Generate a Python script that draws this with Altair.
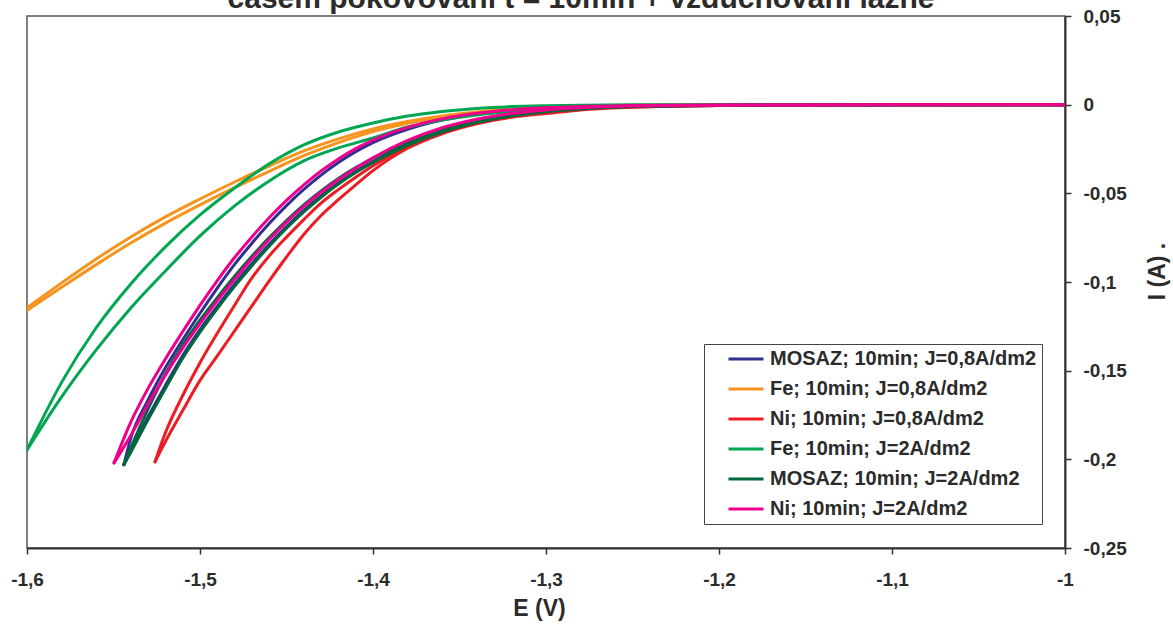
import altair as alt
import pandas as pd

TITLE = "časem pokovování t = 10min + vzduchování lázně"

SERIES = [
    "MOSAZ; 10min; J=0,8A/dm2",
    "Fe; 10min; J=0,8A/dm2",
    "Ni; 10min; J=0,8A/dm2",
    "Fe; 10min; J=2A/dm2",
    "MOSAZ; 10min; J=2A/dm2",
    "Ni; 10min; J=2A/dm2",
]
COLORS = ["#2E3192", "#F7941D", "#ED1C24", "#00A651", "#00693C", "#EC008C"]

X_TICKS = [-1.6, -1.5, -1.4, -1.3, -1.2, -1.1, -1.0]
Y_TICKS = [0.05, 0.0, -0.05, -0.1, -0.15, -0.2, -0.25]

# potential grids (V)
E_FE = [-1.60, -1.58, -1.56, -1.54, -1.52, -1.50, -1.48, -1.46, -1.44, -1.42,
        -1.40, -1.38, -1.36, -1.34, -1.32, -1.30, -1.28, -1.25, -1.20, -1.00]
E_NI2 = [-1.5497, -1.54, -1.53, -1.52, -1.51, -1.50, -1.49, -1.48, -1.47, -1.46,
         -1.45, -1.44, -1.43, -1.42, -1.41, -1.40, -1.38, -1.36, -1.34, -1.32,
         -1.30, -1.28, -1.25, -1.20, -1.10, -1.00]
E_MOSAZ = [-1.544, -1.54, -1.53, -1.52, -1.51, -1.50, -1.49, -1.48, -1.47, -1.46,
           -1.45, -1.44, -1.43, -1.42, -1.41, -1.40, -1.38, -1.36, -1.34, -1.32,
           -1.30, -1.28, -1.25, -1.20, -1.10, -1.00]
E_NI08 = [-1.526, -1.52, -1.51, -1.50, -1.49, -1.48, -1.47, -1.46, -1.45, -1.44,
          -1.43, -1.42, -1.41, -1.40, -1.38, -1.36, -1.34, -1.32, -1.30, -1.28,
          -1.25, -1.20, -1.10, -1.00]

# currents (A), two sweep branches per sample
I_MOSAZ08_A = [-0.2030, -0.1880, -0.1665, -0.1484, -0.1326, -0.1176, -0.1034, -0.0901, -0.0781, -0.0670,
               -0.0569, -0.0478, -0.0397, -0.0326, -0.0265, -0.0214, -0.0139, -0.0087, -0.0054, -0.0033,
               -0.0020, -0.0011, -0.0005, -0.0002, -0.0001, 0.0]
I_MOSAZ08_B = [-0.2030, -0.1950, -0.1760, -0.1583, -0.1414, -0.1268, -0.1136, -0.1012, -0.0896, -0.0787,
               -0.0687, -0.0596, -0.0514, -0.0441, -0.0377, -0.0321, -0.0226, -0.0152, -0.0099, -0.0063,
               -0.0039, -0.0023, -0.0011, -0.0004, -0.0001, 0.0]
I_FE08_A = [-0.1146, -0.1005, -0.0870, -0.0746, -0.0633, -0.0532, -0.0436, -0.0346, -0.0261, -0.0193,
            -0.0137, -0.0095, -0.0064, -0.0041, -0.0024, -0.0015, -0.0008, -0.0003, -0.0001, 0.0]
I_FE08_B = [-0.1160, -0.1030, -0.0902, -0.0780, -0.0668, -0.0565, -0.0468, -0.0376, -0.0288, -0.0214,
            -0.0152, -0.0105, -0.0071, -0.0045, -0.0027, -0.0017, -0.0009, -0.0004, -0.0001, 0.0]
I_NI08_A = [-0.2014, -0.1850, -0.1640, -0.1455, -0.1289, -0.1131, -0.0977, -0.0853, -0.0747, -0.0648,
            -0.0555, -0.0479, -0.0409, -0.0344, -0.0237, -0.0158, -0.0100, -0.0063, -0.0043, -0.0024,
            -0.0013, -0.0004, -0.0001, 0.0]
I_NI08_B = [-0.2014, -0.1900, -0.1725, -0.1555, -0.1417, -0.1276, -0.1135, -0.0994, -0.0859, -0.0732,
            -0.0625, -0.0536, -0.0452, -0.0372, -0.0246, -0.0164, -0.0108, -0.0071, -0.0050, -0.0030,
            -0.0015, -0.0005, -0.0001, 0.0]
I_FE2_A = [-0.1947, -0.1566, -0.1258, -0.1011, -0.0802, -0.0622, -0.0470, -0.0334, -0.0227, -0.0154,
           -0.0103, -0.0064, -0.0038, -0.0021, -0.0011, -0.0006, -0.0003, -0.0001, -0.0001, 0.0]
I_FE2_B = [-0.1947, -0.1648, -0.1383, -0.1146, -0.0938, -0.0740, -0.0571, -0.0430, -0.0317, -0.0244,
           -0.0188, -0.0126, -0.0086, -0.0058, -0.0038, -0.0024, -0.0016, -0.0007, -0.0003, 0.0]
I_MOSAZ2_A = [-0.2030, -0.1935, -0.1715, -0.1520, -0.1355, -0.1215, -0.1088, -0.0968, -0.0855, -0.0750,
              -0.0653, -0.0565, -0.0486, -0.0416, -0.0355, -0.0302, -0.0212, -0.0142, -0.0092, -0.0058,
              -0.0036, -0.0022, -0.0010, -0.0003, -0.0001, 0.0]
I_MOSAZ2_B = [-0.2030, -0.1960, -0.1775, -0.1600, -0.1430, -0.1283, -0.1150, -0.1025, -0.0908, -0.0798,
              -0.0697, -0.0605, -0.0522, -0.0448, -0.0383, -0.0326, -0.0230, -0.0155, -0.0101, -0.0064,
              -0.0040, -0.0024, -0.0011, -0.0004, -0.0001, 0.0]
I_NI2_A = [-0.2020, -0.1790, -0.1600, -0.1434, -0.1280, -0.1132, -0.0992, -0.0862, -0.0746, -0.0638,
           -0.0540, -0.0452, -0.0374, -0.0306, -0.0248, -0.0200, -0.0128, -0.0080, -0.0049, -0.0030,
           -0.0018, -0.0010, -0.0005, -0.0002, -0.0001, 0.0]
I_NI2_B = [-0.2020, -0.1865, -0.1690, -0.1525, -0.1373, -0.1235, -0.1105, -0.0985, -0.0868, -0.0760,
           -0.0662, -0.0574, -0.0494, -0.0422, -0.0358, -0.0300, -0.0202, -0.0130, -0.0082, -0.0050,
           -0.0030, -0.0018, -0.0008, -0.0003, -0.0001, 0.0]

branches = [
    (SERIES[0], "a", E_MOSAZ, I_MOSAZ08_A),
    (SERIES[0], "b", E_MOSAZ, I_MOSAZ08_B),
    (SERIES[1], "a", E_FE, I_FE08_A),
    (SERIES[1], "b", E_FE, I_FE08_B),
    (SERIES[2], "a", E_NI08, I_NI08_A),
    (SERIES[2], "b", E_NI08, I_NI08_B),
    (SERIES[3], "a", E_FE, I_FE2_A),
    (SERIES[3], "b", E_FE, I_FE2_B),
    (SERIES[4], "a", E_MOSAZ, I_MOSAZ2_A),
    (SERIES[4], "b", E_MOSAZ, I_MOSAZ2_B),
    (SERIES[5], "a", E_NI2, I_NI2_A),
    (SERIES[5], "b", E_NI2, I_NI2_B),
]

rows = []
for k, (name, br, es, cur) in enumerate(branches):
    for e, i in zip(es, cur):
        rows.append({"series": name, "branch": f"{k:02d}{br}", "E": e, "I": i})
df = pd.DataFrame(rows)

FONT = "Liberation Sans"
INK = "#2b2b2b"
NUM_LABEL = "(datum.value < 0 ? '-' : '') + replace(format(abs(datum.value), '~g'), '.', ',')"

lines = alt.Chart(df).mark_line(
    strokeWidth=3, strokeCap="round", strokeJoin="round", clip=True,
    interpolate="monotone",
).encode(
    x=alt.X(
        "E:Q",
        scale=alt.Scale(domain=[-1.6, -1.0], nice=False, zero=False),
        axis=alt.Axis(
            values=X_TICKS, labelExpr=NUM_LABEL, grid=False,
            domainColor="#333333", domainWidth=2, tickColor="#333333", tickWidth=1.5,
            tickSize=6, labelPadding=16, labelFont=FONT, labelFontSize=19,
            labelFontWeight="bold", labelColor=INK, labelFlush=False, labelOverlap=False,
            titleFont=FONT, titleFontSize=23, titleFontWeight="bold", titleColor=INK,
            titlePadding=8, titleX=512, titleAnchor="middle",
        ),
        title="E (V)",
    ),
    y=alt.Y(
        "I:Q",
        scale=alt.Scale(domain=[-0.25, 0.05], nice=False, zero=False),
        axis=alt.Axis(
            orient="right", values=Y_TICKS, labelExpr=NUM_LABEL, grid=False,
            domainColor="#333333", domainWidth=2, tickColor="#333333", tickWidth=1.5,
            tickSize=6, labelPadding=12, labelFont=FONT, labelFontSize=19,
            labelFontWeight="bold", labelColor=INK, labelFlush=False, labelOverlap=False,
            titleFont=FONT, titleFontSize=23, titleFontWeight="bold", titleColor=INK,
            titleAngle=270, titleX=99, titleY=255, titleAlign="center",
            titleBaseline="alphabetic",
        ),
        title="I (A)    .",
    ),
    color=alt.Color(
        "series:N",
        scale=alt.Scale(domain=SERIES, range=COLORS),
        title=None,
        legend=alt.Legend(
            orient="none", legendX=677, legendY=328, padding=5,
            symbolType="stroke", symbolSize=1225, symbolStrokeWidth=3,
            symbolOffset=18, clipHeight=20, rowPadding=10, labelOffset=5,
            labelFont=FONT, labelFontSize=20, labelFontWeight="bold",
            labelColor=INK, labelLimit=400,
            fillColor="white", strokeColor="#444444",
        ),
    ),
    detail="branch:N",
)

title = alt.Chart(pd.DataFrame({"t": [TITLE]})).mark_text(
    font=FONT, fontSize=30, fontWeight="bold", color=INK,
    align="center", baseline="alphabetic",
).encode(text="t:N", x=alt.value(554), y=alt.value(-8))

chart = alt.layer(lines, title).properties(
    width=1038,
    height=532,
    autosize=alt.AutoSizeParams(type="none"),
    padding={"left": 27, "top": 16, "right": 108, "bottom": 78},
    background="white",
).configure_view(stroke="#555555", strokeWidth=1.5)

chart.save("out.html", embed_options={"renderer": "svg", "actions": False})
